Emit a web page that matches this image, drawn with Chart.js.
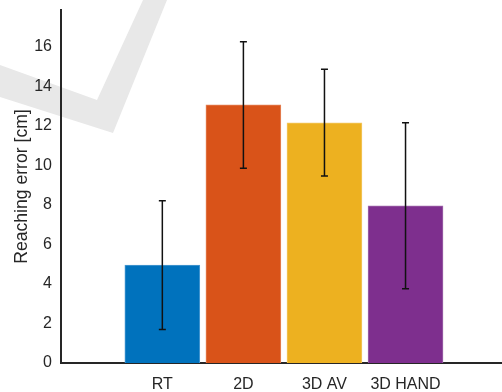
<!DOCTYPE html>
<html>
<head>
<meta charset="utf-8">
<script src="https://cdn.jsdelivr.net/npm/chart.js@4.4.1/dist/chart.umd.min.js"></script>
<style>
  html, body { margin: 0; padding: 0; background: #fff; }
  #wrap { position: relative; width: 502px; height: 392px; }
  #mark { position: absolute; left: 0; top: 0; }
  #c { position: absolute; left: 0; top: 0; }
</style>
</head>
<body>
<div id="wrap">
  <svg id="mark" width="502" height="392">
    <polygon points="0,65 97,100 143,0 167,0 113,133 0,97" fill="#e8e8e8"/>
  </svg>
  <canvas id="c" width="502" height="392"></canvas>
</div>
<script>
// Reaching error per condition (mean and standard deviation, cm)
const conditions = ['RT', '2D', '3D AV', '3D HAND'];
const meanError = [4.95, 13.05, 12.15, 7.95];
const sdError = [3.25, 3.2, 2.7, 4.2];
const yTicks = [0, 2, 4, 6, 8, 10, 12, 14, 16];

const fills = ['#0072BD', '#D95319', '#EDB120', '#7E2F8E'];
const edges = ['#4d9bd2', '#e4845a', '#f3c865', '#a06aab'];
const ink = '#262626';
const family = "'Liberation Sans', Arial, sans-serif";
const tickFont = { family, size: 16 };
const titleFont = { family, size: 17.6 };

const points = meanError.map((m, i) => ({ x: i + 1, y: m }));

const errorBars = {
  id: 'errorBars',
  afterDatasetsDraw(chart) {
    const { ctx, scales: { x, y } } = chart;
    ctx.save();
    ctx.strokeStyle = '#111';
    ctx.lineWidth = 1.5;
    meanError.forEach((m, i) => {
      const px = x.getPixelForValue(i + 1);
      const top = y.getPixelForValue(m + sdError[i]);
      const bot = y.getPixelForValue(m - sdError[i]);
      ctx.beginPath();
      ctx.moveTo(px, top); ctx.lineTo(px, bot);
      ctx.moveTo(px - 3.5, top); ctx.lineTo(px + 3.5, top);
      ctx.moveTo(px - 3.5, bot); ctx.lineTo(px + 3.5, bot);
      ctx.stroke();
    });
    ctx.restore();
  }
};

new Chart(document.getElementById('c'), {
  type: 'bar',
  data: {
    datasets: [{
      data: points,
      backgroundColor: fills,
      borderColor: edges,
      borderWidth: 1,
      barThickness: 75
    }]
  },
  options: {
    responsive: false,
    animation: false,
    devicePixelRatio: 1,
    layout: { padding: { top: 10, right: 0, left: 0, bottom: 0 } },
    plugins: { legend: { display: false }, tooltip: { enabled: false } },
    scales: {
      x: {
        type: 'linear',
        offset: false,
        min: -0.25,
        max: 5.19,
        grid: { display: false, drawTicks: false },
        border: { display: true, color: ink, width: 2 },
        afterBuildTicks(scale) { scale.ticks = conditions.map((_, i) => ({ value: i + 1 })); },
        afterFit(scale) { scale.height = 29; scale.paddingLeft = 0; scale.paddingRight = 0; },
        ticks: {
          color: ink, font: tickFont, padding: 12, maxRotation: 0, autoSkip: false,
          callback: (v) => conditions[v - 1] ?? ''
        }
      },
      y: {
        min: 0,
        max: 17.85,
        grid: { display: false, drawTicks: false },
        border: { display: true, color: ink, width: 2 },
        afterBuildTicks(scale) { scale.ticks = yTicks.map(v => ({ value: v })); },
        afterFit(scale) { scale.width = 61; scale.paddingTop = 0; scale.paddingBottom = 0; },
        ticks: { color: ink, font: tickFont, padding: 9 },
        title: {
          display: true, text: 'Reaching error [cm]', color: ink, font: titleFont,
          padding: { top: 12, bottom: 0 }
        }
      }
    }
  },
  plugins: [errorBars]
});
</script>
</body>
</html>
